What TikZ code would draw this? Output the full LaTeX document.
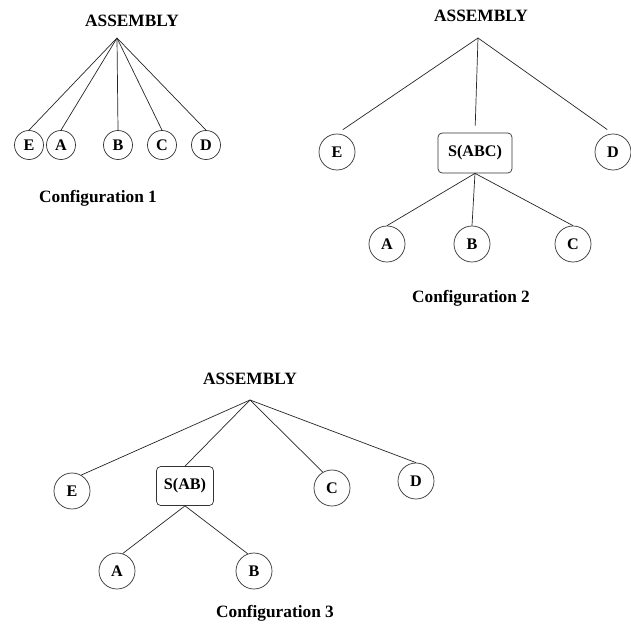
\documentclass[tikz,border=0pt]{standalone}
\usepackage{fontspec}
\setmainfont{Liberation Serif}
\usepackage{tikz}
\usetikzlibrary{positioning}

\begin{document}
\begin{tikzpicture}[
    x=0.025cm, y=-0.025cm,
    title/.style={font=\bfseries\fontsize{12.3}{14}\selectfont, anchor=base, inner sep=0pt},
    caption/.style={font=\bfseries\fontsize{12.3}{14}\selectfont, anchor=base, inner sep=0pt},
    part/.style={circle, draw=black!80, line width=0.5pt, minimum size=0.9cm, inner sep=0pt, font=\bfseries\fontsize{11.5}{13}\selectfont},
    small/.style={part, minimum size=0.725cm},
    subassy/.style={rectangle, draw=black!80, line width=0.5pt, rounded corners=3pt, minimum height=1cm, inner sep=0pt, font=\bfseries\fontsize{11.5}{13}\selectfont},
    link/.style={draw=black!85, line width=0.5pt}
]
\useasboundingbox (0,0) rectangle (631,630);

% Configuration 1
\node[title] (asm1) at (132,27) {ASSEMBLY};
\coordinate (apex1) at (117,38);
\node[small] (e1) at (29,145) {E};
\node[small] (a1) at (61,145) {A};
\node[small] (b1) at (118,145) {B};
\node[small] (c1) at (162,145) {C};
\node[small] (d1) at (206,145) {D};
\node[caption] (cap1) at (98,202) {Configuration 1};

\draw[link] (apex1) -- (e1.north);
\draw[link] (apex1) -- (a1.north);
\draw[link] (apex1) -- (b1.north);
\draw[link] (apex1) -- (c1.north);
\draw[link] (apex1) -- (d1.north);

% Configuration 2
\node[title] (asm2) at (481,22) {ASSEMBLY};
\coordinate (apex2) at (478,38);
\node[part] (e2) at (337,152) {E};
\node[subassy, minimum width=1.85cm] (sabc) at (475,153) {S(ABC)};
\node[part] (d2) at (613,152) {D};
\node[part] (a2) at (387,244) {A};
\node[part] (b2) at (472,244) {B};
\node[part] (c2) at (573,244) {C};
\node[caption] (cap2) at (471,302) {Configuration 2};

\draw[link, shorten >=5pt] (apex2) -- (e2.north);
\draw[link, shorten >=5pt] (apex2) -- (sabc.north);
\draw[link, shorten >=5pt] (apex2) -- (d2.north);
\draw[link] (sabc.south) -- (a2.north);
\draw[link] (sabc.south) -- (b2.north);
\draw[link] (sabc.south) -- (c2.north);

% Configuration 3
\node[title] (asm3) at (250,384) {ASSEMBLY};
\coordinate (apex3) at (250,400);
\node[part] (e3) at (72,491) {E};
\node[subassy, minimum width=1.425cm, minimum height=0.975cm] (sab) at (185,486) {S(AB)};
\node[part] (c3) at (332,488) {C};
\node[part] (d3) at (416,481) {D};
\node[part] (a3) at (117,571) {A};
\node[part] (b3) at (254,571) {B};
\node[caption] (cap3) at (275,617) {Configuration 3};

\draw[link] (apex3) -- (e3.60);
\draw[link] (apex3) -- (sab.north);
\draw[link] (apex3) -- (c3.120);
\draw[link] (apex3) -- (d3.north);
\draw[link] (sab.south) -- (a3.72);
\draw[link] (sab.south) -- (b3.110);

\end{tikzpicture}
\end{document}
